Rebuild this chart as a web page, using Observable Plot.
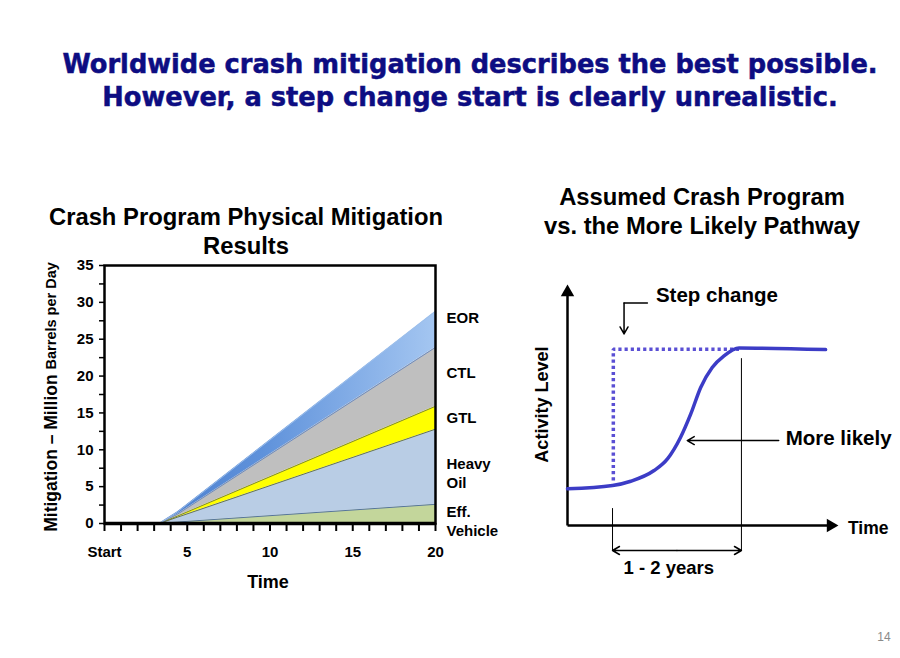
<!DOCTYPE html>
<html>
<head>
<meta charset="utf-8">
<script src="https://cdn.jsdelivr.net/npm/d3@7"></script>
<script src="https://cdn.jsdelivr.net/npm/@observablehq/plot@0.6"></script>
<style>
  html, body { margin: 0; padding: 0; background: #fff; }
  #page { position: relative; width: 900px; height: 658px; overflow: hidden; font-family: "Liberation Sans", Arial, sans-serif; }
  .abs { position: absolute; }
  #mainTitle { left: 0; width: 940px; top: 48px; text-align: center; font-family: "DejaVu Sans", Verdana, sans-serif; font-weight: bold; font-size: 25.7px; line-height: 33px; color: #0d0d82; -webkit-text-stroke: 0.5px #0d0d82; white-space: nowrap; }
  .ctitle { font-weight: bold; font-size: 23.8px; line-height: 29px; text-align: center; color: #000; white-space: nowrap; }
  #leftTitle { left: 26px; width: 440px; top: 202px; }
  #rightTitle { left: 502px; width: 400px; top: 182px; }
  #pageNum { left: 870px; width: 28px; top: 630px; text-align: center; font-size: 12px; color: #8a8a8a; }
  #leftPlot { left: 30px; top: 255px; }
  #rightPlot { left: 520px; top: 270px; }
</style>
</head>
<body>
<div id="page">
  <div id="mainTitle" class="abs">Worldwide crash mitigation describes the best possible.<br>However, a step change start is clearly unrealistic.</div>
  <div id="leftTitle" class="abs ctitle">Crash Program Physical Mitigation<br>Results</div>
  <div id="rightTitle" class="abs ctitle">Assumed Crash Program<br>vs. the More Likely Pathway</div>
  <div id="leftPlot" class="abs"></div>
  <div id="rightPlot" class="abs"></div>
  <div id="pageNum" class="abs">14</div>
</div>
<script>
// ---------- Left chart data ----------
const times = [0, 3.3, 4.4, 20];
const seriesNames = ["Eff. Vehicle", "Heavy Oil", "GTL", "CTL", "EOR"];
const effVehicle = [0, 0, 0.2, 2.6];
const heavyOil   = [0, 0, 0.65, 10.2];
const gtl        = [0, 0, 0.15, 3.1];
const ctl        = [0, 0, 0.25, 8.0];
const eor        = [0, 0, 0.3, 4.9];
const fillColors = ["#c3d69b", "#b9cde5", "#ffff00", "#bfbfbf", "url(#eorGrad)"];
const edgeColors = ["#4a6a9c", "#5e6a3a", "#6f7a3a", "#6384bd", "#9ec0ea"];
const xMinorTicks = d3.range(0, 21, 1);
const xLabelTicks = [0, 5, 10, 15, 20];
const xTickText = ["Start", "5", "10", "15", "20"];
const yMinorTicks = d3.range(0, 35.1, 2.5);
const yLabelTicks = [0, 5, 10, 15, 20, 25, 30, 35];
const seriesLabels = ["Eff.\nVehicle", "Heavy\nOil", "GTL", "CTL", "EOR"];
const seriesLabelY = [0.42, 6.9, 14.5, 20.5, 28.0];

const layers = [effVehicle, heavyOil, gtl, ctl, eor];
const areaData = layers.flatMap((vals, i) => times.map((t, j) => ({t, v: vals[j], series: seriesNames[i]})));
const edgeData = layers.map((vals, i) => times.map((t, j) => ({t, top: d3.sum(layers.slice(0, i + 1), l => l[j])})).filter(d => d.t >= 3.3));
const labelData = seriesLabels.map((label, i) => ({label, y: seriesLabelY[i]}));

function gradientDefs(index, scales) {
  const defs = d3.create("svg:defs");
  const g = defs.append("linearGradient").attr("id", "eorGrad")
    .attr("gradientUnits", "userSpaceOnUse")
    .attr("x1", scales.x(4)).attr("x2", scales.x(20)).attr("y1", 0).attr("y2", 0);
  g.append("stop").attr("offset", "0%").attr("stop-color", "#4f82d0");
  g.append("stop").attr("offset", "35%").attr("stop-color", "#5f92db");
  g.append("stop").attr("offset", "100%").attr("stop-color", "#a4c6f1");
  return defs.node();
}

const leftPlot = Plot.plot({
  width: 470, height: 350,
  marginLeft: 74, marginRight: 65, marginTop: 10, marginBottom: 82,
  style: {fontFamily: "Liberation Sans, Arial, sans-serif", fontSize: "15px", fontWeight: "bold", color: "#000", background: "transparent", overflow: "visible"},
  x: {domain: [0, 20], label: null},
  y: {domain: [0, 35], label: null},
  color: {domain: seriesNames, range: fillColors},
  marks: [
    gradientDefs,
    Plot.areaY(areaData, Plot.stackY({x: "t", y: "v", z: "series", fill: "series"})),
    ...edgeData.map((d, i) => Plot.line(d, {x: "t", y: "top", stroke: edgeColors[i], strokeWidth: 0.9})),
    Plot.frame({stroke: "#000", strokeWidth: 2.5}),
    Plot.ruleY([0], {stroke: "#000", strokeWidth: 3.5}),
    Plot.axisX({ticks: xMinorTicks, tickSize: 8, strokeWidth: 2, tickFormat: () => "", label: null}),
    Plot.axisX({ticks: xLabelTicks, tickSize: 0, tickPadding: 23, tickFormat: d => xTickText[xLabelTicks.indexOf(d)], fontSize: 15, fontWeight: "bold", label: null}),
    Plot.axisY({ticks: yMinorTicks, tickSize: 5, strokeWidth: 1.5, tickFormat: () => "", label: null}),
    Plot.axisY({ticks: yLabelTicks, tickSize: 0, tickPadding: 11, fontSize: 15, fontWeight: "bold", label: null}),
    Plot.text(labelData, {x: 20, y: "y", text: "label", dx: 11, textAnchor: "start", fontSize: 15, fontWeight: "bold", lineHeight: 1.25, fill: "#000"})
  ]
});
// axis titles
const ls = d3.select(leftPlot);
const yl = ls.append("text").attr("transform", "translate(22,142) rotate(-90)")
  .attr("text-anchor", "middle").attr("dominant-baseline", "middle")
  .attr("font-weight", "bold").attr("fill", "#000");
yl.append("tspan").attr("font-size", 17.5).text("Mitigation – Million ");
yl.append("tspan").attr("font-size", 14.5).text("Barrels per Day");
ls.append("text").attr("x", 238).attr("y", 328).attr("text-anchor", "middle")
  .attr("dominant-baseline", "middle").attr("font-size", 18).attr("font-weight", "bold").attr("fill", "#000").text("Time");
document.getElementById("leftPlot").appendChild(leftPlot);

// ---------- Right chart data (abstract time / activity units) ----------
const likelyX = [0, 1.68, 2.36, 3.23, 3.73, 4.22, 4.60, 4.97, 5.40, 5.84, 6.40, 9.63];
const likelyY = [1.54, 1.68, 1.86, 2.31, 2.80, 3.71, 4.69, 5.80, 6.64, 7.13, 7.46, 7.39];
const stepX = [1.71, 1.71, 6.40];
const stepY = [1.89, 7.41, 7.41];
const likely = likelyX.map((x, i) => ({x, y: likelyY[i]}));
const step = stepX.map((x, i) => ({x, y: stepY[i]}));
const startTime = 1.68, endTime = 6.49, spanY = -1.05;

const rightPlot = Plot.plot({
  width: 380, height: 320,
  marginLeft: 47, marginRight: 65, marginTop: 17, marginBottom: 65,
  style: {fontFamily: "Liberation Sans, Arial, sans-serif", fontWeight: "bold", color: "#000", background: "transparent", overflow: "visible"},
  x: {domain: [0, 10], axis: null},
  y: {domain: [0, 10], axis: null},
  marks: [
    // axes with arrowheads
    Plot.link([{x1: 0, y1: 0, x2: 0, y2: 9.75}], {x1: "x1", y1: "y1", x2: "x2", y2: "y2", stroke: "#000", strokeWidth: 2.5}),
    Plot.link([{x1: 0, y1: 0, x2: 9.8, y2: 0}], {x1: "x1", y1: "y1", x2: "x2", y2: "y2", stroke: "#000", strokeWidth: 2.5}),
    Plot.dot([{x: 0, y: 9.8}], {x: "x", y: "y", symbol: "triangle", r: 5, fill: "#000", stroke: null}),
    Plot.dot([{x: 9.82, y: 0}], {x: "x", y: "y", symbol: "triangle", r: 5, fill: "#000", stroke: null, rotate: 90}),
    // guides
    Plot.ruleX([startTime], {y1: 0.71, y2: -1.05, stroke: "#000", strokeWidth: 1}),
    Plot.ruleX([endTime], {y1: 7.01, y2: -1.05, stroke: "#000", strokeWidth: 1}),
    Plot.arrow([{x1: (startTime + endTime) / 2, x2: startTime}, {x1: (startTime + endTime) / 2, x2: endTime}],
      {x1: "x1", x2: "x2", y1: spanY, y2: spanY, stroke: "#000", strokeWidth: 1.5, headLength: 8, inset: 0}),
    // curves
    Plot.line(step, {x: "x", y: "y", stroke: "#5a4fd4", strokeWidth: 3.5, strokeDasharray: "3.2,3", strokeLinecap: "butt", strokeLinejoin: "miter"}),
    Plot.line(likely, {x: "x", y: "y", stroke: "#3c3cc6", strokeWidth: 3.5, curve: "monotone-x"}),
    // annotations
    Plot.line([{x: 2.98, y: 9.35}, {x: 2.11, y: 9.35}], {x: "x", y: "y", stroke: "#000", strokeWidth: 1.5}),
    Plot.arrow([{x1: 2.11, y1: 9.35, x2: 2.11, y2: 8.05}], {x1: "x1", y1: "y1", x2: "x2", y2: "y2", stroke: "#000", strokeWidth: 1.5, headLength: 8, inset: 0}),
    Plot.arrow([{x1: 7.88, y1: 3.57, x2: 4.47, y2: 3.57}], {x1: "x1", y1: "y1", x2: "x2", y2: "y2", stroke: "#000", strokeWidth: 1.5, headLength: 8, inset: 0}),
    Plot.text(["Step change"], {x: 3.3, y: 9.65, text: d => d, textAnchor: "start", fontSize: 20.5, fontWeight: "bold", fill: "#000"}),
    Plot.text(["More likely"], {x: 8.14, y: 3.65, text: d => d, textAnchor: "start", fontSize: 20.5, fontWeight: "bold", fill: "#000"}),
    Plot.text(["Time"], {x: 11.22, y: -0.11, text: d => d, fontSize: 17.5, fontWeight: "bold", fill: "#000"}),
    Plot.text(["1 - 2 years"], {x: 3.78, y: -1.79, text: d => d, fontSize: 18.5, fontWeight: "bold", fill: "#000"}),
    Plot.text(["Activity Level"], {x: -0.93, y: 5.08, text: d => d, rotate: -90, fontSize: 18, fontWeight: "bold", fill: "#000"})
  ]
});
document.getElementById("rightPlot").appendChild(rightPlot);
</script>
</body>
</html>
